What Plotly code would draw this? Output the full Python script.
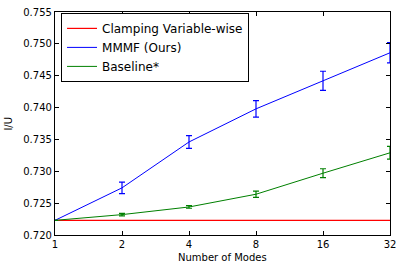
import plotly.graph_objects as go

modes = [1, 2, 4, 8, 16, 32]
tick_labels = ["1", "2", "4", "8", "16", "32"]

clamping = [0.7223, 0.7223, 0.7223, 0.7223, 0.7223, 0.7223]

mmmf = [0.7223, 0.7274, 0.7346, 0.7398, 0.7442, 0.7486]
mmmf_err = [0.0, 0.0009, 0.0010, 0.0013, 0.0015, 0.0016]

baseline = [0.7223, 0.7232, 0.7244, 0.7264, 0.7297, 0.7329]
baseline_err = [0.0, 0.0002, 0.0002, 0.0005, 0.0007, 0.0010]

fig = go.Figure()
fig.add_trace(go.Scatter(x=modes, y=clamping, mode="lines", name="Clamping Variable-wise",
                         line=dict(color="#ff0000", width=1.2)))
fig.add_trace(go.Scatter(x=modes, y=mmmf, mode="lines", name="MMMF (Ours)",
                         line=dict(color="#0000ff", width=1),
                         error_y=dict(type="data", array=mmmf_err, visible=True,
                                      color="#0000ff", thickness=1.2, width=3)))
fig.add_trace(go.Scatter(x=modes, y=baseline, mode="lines", name="Baseline*",
                         line=dict(color="#008000", width=1),
                         error_y=dict(type="data", array=baseline_err, visible=True,
                                      color="#008000", thickness=1.2, width=3)))

axis_common = dict(showline=True, linecolor="black", linewidth=1.2, mirror="ticks",
                   ticks="inside", ticklen=4, tickcolor="black", showgrid=False,
                   zeroline=False, automargin=False,
                   tickfont=dict(family="DejaVu Sans", size=10, color="black"))

fig.update_xaxes(type="log", range=[0, 1.50515], tickvals=modes, ticktext=tick_labels,
                 **axis_common)
fig.update_yaxes(range=[0.720, 0.755], dtick=0.005, tickformat=".3f",
                 **axis_common)

title_font = dict(family="DejaVu Sans", size=10, color="black")
fig.add_annotation(text="Number of Modes", xref="paper", yref="paper", x=0.5, y=-0.103,
                   xanchor="center", yanchor="middle", showarrow=False, font=title_font)
fig.add_annotation(text="I/U", xref="paper", yref="paper", x=-0.140, y=0.5,
                   xanchor="center", yanchor="middle", showarrow=False, textangle=-90,
                   font=title_font)

fig.update_layout(
    width=403, height=271,
    margin=dict(l=55, r=13, t=12, b=36),
    plot_bgcolor="white", paper_bgcolor="white",
    font=dict(family="DejaVu Sans", size=12, color="black"),
    legend=dict(x=0.018, y=0.996, xanchor="left", yanchor="top",
                bordercolor="black", borderwidth=1, bgcolor="white",
                font=dict(family="DejaVu Sans", size=12, color="black"),
                tracegroupgap=0),
    showlegend=True,
)

fig.write_html("out.html", config={"displayModeBar": False},
               post_script="document.body.style.margin='0';")
